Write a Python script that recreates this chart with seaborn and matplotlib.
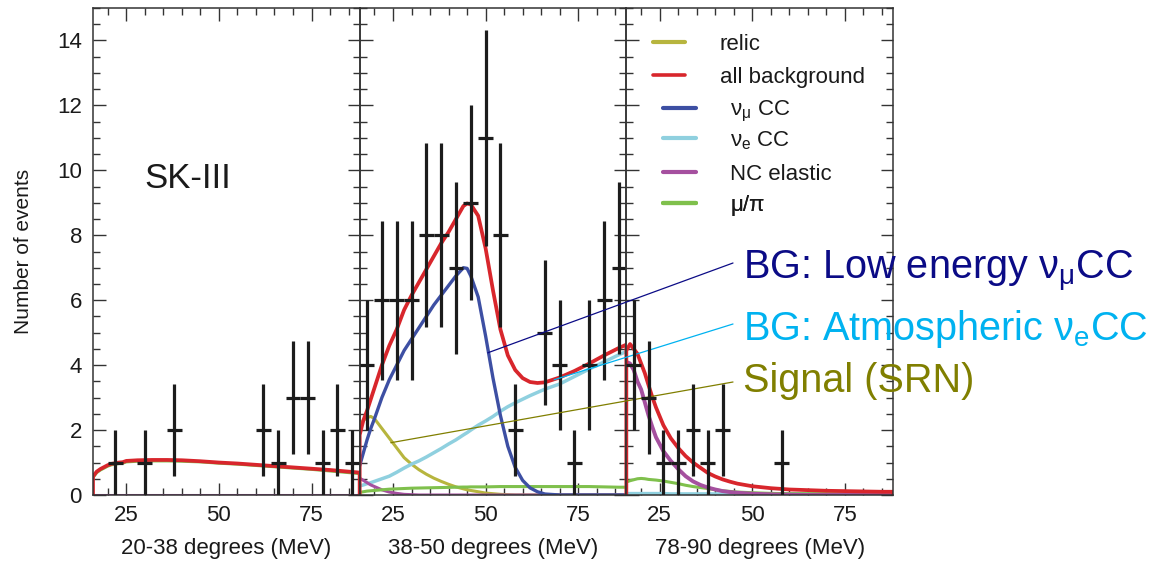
import numpy as np
import matplotlib
matplotlib.use("Agg")
import matplotlib.pyplot as plt
from matplotlib.ticker import MultipleLocator
from matplotlib.lines import Line2D
import seaborn as sns

# ---------------- data ----------------
BIN_CENTERS = [18, 22, 26, 30, 34, 38, 42, 46, 50, 54, 58, 62, 66, 70, 74, 78, 82, 86]
BIN_HALF_WIDTH = 2
COUNTS_20_38 = [0, 1, 0, 1, 0, 2, 0, 0, 0, 0, 0, 2, 1, 3, 3, 1, 2, 1]
COUNTS_38_50 = [4, 6, 6, 6, 8, 8, 7, 9, 11, 8, 2, 0, 5, 4, 1, 4, 6, 7]
COUNTS_78_90 = [4, 3, 1, 1, 2, 1, 2, 0, 0, 0, 1, 0, 0, 0, 0, 0, 0, 0]

# panel 1: 20-38 degrees
P1_X = [16, 17, 18, 19, 20, 21, 22, 23, 24, 25, 28, 32, 36, 40, 45, 50, 55, 60, 65, 70, 75, 80, 85, 88]
P1_ALLBG = [0.57, 0.72, 0.80, 0.86, 0.92, 0.96, 0.98, 1.00, 1.01, 1.05, 1.07, 1.08, 1.08, 1.07, 1.04, 1.00,
            0.97, 0.93, 0.89, 0.85, 0.81, 0.77, 0.72, 0.69]
P1_MUPI = [0.54, 0.69, 0.77, 0.83, 0.89, 0.93, 0.95, 0.97, 0.98, 1.02, 1.04, 1.05, 1.05, 1.04, 1.02, 0.98,
           0.95, 0.91, 0.87, 0.83, 0.79, 0.74, 0.69, 0.66]
P1_NC = [0.0] * 24

# panel 2: 38-50 degrees
P2_X = [16, 17, 18, 19, 20, 22, 24, 26, 28, 30, 32, 34, 36, 38, 40, 42, 44, 45, 46, 48, 50, 52, 54, 56, 58,
        60, 62, 64, 66, 70, 74, 78, 82, 86, 88]
P2_ALLBG = [1.85, 2.3, 2.6, 2.95, 3.3, 4.0, 4.6, 5.1, 5.7, 6.15, 6.55, 6.95, 7.35, 7.75, 8.1, 8.5, 8.9, 8.98,
            8.95, 8.6, 7.6, 6.3, 5.1, 4.3, 3.85, 3.6, 3.48, 3.45, 3.47, 3.62, 3.82, 4.05, 4.3, 4.53, 4.63]
P2_NUMU = [0.9, 1.3, 1.7, 2.05, 2.35, 3.0, 3.55, 4.0, 4.45, 4.8, 5.15, 5.5, 5.85, 6.15, 6.45, 6.75, 7.0, 6.98,
           6.75, 6.1, 4.9, 3.6, 2.45, 1.5, 0.85, 0.45, 0.22, 0.1, 0.03, 0, 0, 0, 0, 0, 0]
P2_NUE = [0.28, 0.31, 0.35, 0.38, 0.42, 0.5, 0.58, 0.7, 0.83, 0.95, 1.05, 1.17, 1.3, 1.43, 1.57, 1.7, 1.85,
          1.92, 2.0, 2.15, 2.28, 2.42, 2.58, 2.72, 2.84, 2.95, 3.06, 3.16, 3.26, 3.42, 3.65, 3.88, 4.1, 4.32, 4.42]
P2_RELIC = [2.15, 2.3, 2.38, 2.42, 2.35, 2.05, 1.75, 1.45, 1.15, 0.95, 0.78, 0.64, 0.52, 0.42, 0.33, 0.25, 0.19,
            0.16, 0.14, 0.1, 0.06, 0.04, 0.02, 0.01, 0, 0, 0, 0, 0, 0, 0, 0, 0, 0, 0]
P2_MUPI = [0.08, 0.1, 0.12, 0.13, 0.14, 0.16, 0.18, 0.19, 0.2, 0.21, 0.215, 0.22, 0.225, 0.23, 0.235, 0.24,
           0.245, 0.245, 0.25, 0.25, 0.25, 0.255, 0.26, 0.26, 0.26, 0.26, 0.26, 0.26, 0.26, 0.26, 0.26, 0.26,
           0.25, 0.24, 0.24]
P2_NC = [0.52, 0.45, 0.38, 0.31, 0.26, 0.16, 0.09, 0.05, 0.02, 0.01] + [0.0] * 25

# panel 3: 78-90 degrees
P3_X = [16, 17, 18, 19, 20, 21, 22, 23, 24, 26, 28, 30, 32, 34, 36, 38, 40, 42, 44, 46, 50, 55, 60, 65, 70,
        75, 80, 85, 88]
P3_ALLBG = [4.45, 4.65, 4.5, 4.35, 4.05, 3.75, 3.38, 3.02, 2.7, 2.15, 1.75, 1.45, 1.2, 1.0, 0.84, 0.68, 0.57,
            0.48, 0.41, 0.35, 0.27, 0.21, 0.17, 0.15, 0.13, 0.12, 0.11, 0.1, 0.1]
P3_NC = [4.1, 4.05, 3.85, 3.5, 3.25, 2.85, 2.45, 2.1, 1.78, 1.35, 1.05, 0.8, 0.58, 0.42, 0.31, 0.23, 0.17,
         0.12, 0.09, 0.07, 0.04, 0.02, 0.01, 0, 0, 0, 0, 0, 0]
P3_MUPI = [0.4, 0.44, 0.47, 0.5, 0.51, 0.5, 0.48, 0.47, 0.46, 0.43, 0.39, 0.35, 0.3, 0.26, 0.23, 0.2, 0.16,
           0.13, 0.11, 0.09, 0.07, 0.05, 0.04, 0.04, 0.04, 0.03, 0.03, 0.03, 0.03]
P3_NUE = [0.05] * 10 + [0.04] * 19

PANEL_XLABELS = ["20-38 degrees (MeV)", "38-50 degrees (MeV)", "78-90 degrees (MeV)"]
LEGEND_LABELS = ["relic", "all background", "ν$_{\\mathregular{μ}}$ CC", "ν$_{\\mathregular{e}}$ CC",
                 "NC elastic", "μ/π"]
NOTE_LABELS = ["BG: Low energy ν$_{\\mathregular{μ}}$CC",
               "BG: Atmospheric ν$_{\\mathregular{e}}$CC",
               "Signal (SRN)"]
NOTE_TARGETS = [(50.6, 4.38), (68.5, 3.55), (24.4, 1.61)]

# ---------------- style ----------------
C_RELIC = "#b7b53e"
C_ALL = "#d8262c"
C_NUMU = "#3d4fa3"
C_NUE = "#8fd0df"
C_NC = "#a5509f"
C_MUPI = "#7fc04c"
C_DATA = "#1c1c1c"
NOTE_COLORS = ["#0b0b86", "#00b2f0", "#807f00"]

sns.set_theme(style="ticks")
plt.rcParams["font.family"] = ["Liberation Sans", "DejaVu Sans"]
plt.rcParams["mathtext.fontset"] = "custom"
plt.rcParams["mathtext.rm"] = "Liberation Sans"
plt.rcParams["mathtext.it"] = "Liberation Sans:italic"

W, H = 1149, 562
fig, axes = plt.subplots(1, 3, figsize=(W / 100, H / 100), dpi=100, sharey=True)
fig.subplots_adjust(left=93 / W, right=893 / W, bottom=1 - 495 / H, top=1 - 8 / H, wspace=0)


def curve(ax, x, y, color, lw=2.2, close=False):
    x = list(x)
    y = list(y)
    if close:
        x = [x[0]] + x + [x[-1]]
        y = [0.0] + y + [0.0]
    sns.lineplot(x=x, y=y, ax=ax, color=color, linewidth=lw, estimator=None,
                 sort=False, legend=False)


def data_points(ax, counts):
    xs = [c for c, n in zip(BIN_CENTERS, counts) if n > 0]
    ns = np.array([n for n in counts if n > 0], dtype=float)
    ax.errorbar(xs, ns, yerr=np.sqrt(ns), xerr=BIN_HALF_WIDTH, fmt="none",
                ecolor=C_DATA, elinewidth=2.3, capsize=0, zorder=5)


ax1, ax2, ax3 = axes

# panel 1
data_points(ax1, COUNTS_20_38)
curve(ax1, P1_X, P1_MUPI, C_MUPI)
curve(ax1, P1_X, P1_NC, C_NC)
curve(ax1, P1_X, P1_ALLBG, C_ALL, lw=2.7, close=True)

# panel 2
data_points(ax2, COUNTS_38_50)
curve(ax2, P2_X, P2_RELIC, C_RELIC)
curve(ax2, P2_X, P2_NUE, C_NUE, lw=2.5)
curve(ax2, P2_X, P2_NC, C_NC)
curve(ax2, P2_X, P2_MUPI, C_MUPI)
curve(ax2, P2_X, P2_NUMU, C_NUMU, lw=2.4)
curve(ax2, P2_X, P2_ALLBG, C_ALL, lw=2.7, close=True)

# panel 3
data_points(ax3, COUNTS_78_90)
curve(ax3, P3_X, P3_NUE, C_NUE)
curve(ax3, P3_X, P3_MUPI, C_MUPI)
curve(ax3, P3_X, P3_NC, C_NC, lw=2.8)
curve(ax3, P3_X, P3_ALLBG, C_ALL, lw=2.7, close=True)

for ax, lab in zip(axes, PANEL_XLABELS):
    ax.set_xlim(16, 88)
    ax.set_ylim(0, 15)
    ax.xaxis.set_major_locator(MultipleLocator(25))
    ax.xaxis.set_minor_locator(MultipleLocator(5))
    ax.yaxis.set_major_locator(MultipleLocator(2))
    ax.yaxis.set_minor_locator(MultipleLocator(0.5))
    ax.tick_params(which="both", direction="in", top=True, right=True, color="#333333", width=1.0)
    ax.tick_params(which="major", length=9, labelsize=16, labelcolor="#1a1a1a")
    ax.tick_params(which="minor", length=5)
    ax.tick_params(axis="x", pad=7)
    ax.tick_params(axis="y", pad=8)
    ax.set_xlabel(lab, fontsize=16, color="#1a1a1a", labelpad=9)
    for sp in ax.spines.values():
        sp.set_color("#333333")
        sp.set_linewidth(1.1)
    ax.patch.set_visible(False)

ax2.tick_params(axis="y", labelleft=False)
ax3.tick_params(axis="y", labelleft=False)
ax1.set_ylabel("Number of events", fontsize=15, color="#1a1a1a")
ax1.yaxis.set_label_coords(-0.225, 0.5)

ax1.text(29.8, 9.47, "SK-III", fontsize=25, color="#1a1a1a", ha="left", va="baseline")

# legend: one row per entry so the row pitch stays even
leg_colors = [C_RELIC, C_ALL, C_NUMU, C_NUE, C_NC, C_MUPI]
leg_widths = [3, 2.6, 3, 3, 3, 3]
row_px = [44.4, 77.0, 111.4, 140.5, 174.5, 205.6]
row_x = [0.100, 0.100, 0.139, 0.139, 0.139, 0.139]
ax_top_px, ax_h_px = 8.0, 487.0
for lab, col, lw, ypx, xr in zip(LEGEND_LABELS, leg_colors, leg_widths, row_px, row_x):
    yf = 1 - (ypx - ax_top_px) / ax_h_px
    lg = ax3.legend([Line2D([], [], color=col, lw=lw)], [lab], loc="center left",
                    bbox_to_anchor=(xr, yf), frameon=False, fontsize=16,
                    handlelength=1.45, handletextpad=1.55, borderpad=0, borderaxespad=0)
    for t in lg.get_texts():
        t.set_color("#1a1a1a")
    ax3.add_artist(lg)

# annotations
starts_y = [1 - 263 / H, 1 - 324 / H, 1 - 382 / H]
base_y = [1 - 278 / H, 1 - 340 / H, 1 - 392 / H]
for lab, tgt, col, sy, by in zip(NOTE_LABELS, NOTE_TARGETS, NOTE_COLORS, starts_y, base_y):
    ax3.annotate("", xy=tgt, xycoords=ax2.transData, xytext=(733 / W, sy),
                 textcoords="figure fraction",
                 arrowprops=dict(arrowstyle="-", color=col, lw=0.9, shrinkA=0, shrinkB=0))
    fig.text(743 / W, by, lab, fontsize=28.5, color=col, ha="left", va="baseline")

fig.savefig("out.png", dpi=100)
